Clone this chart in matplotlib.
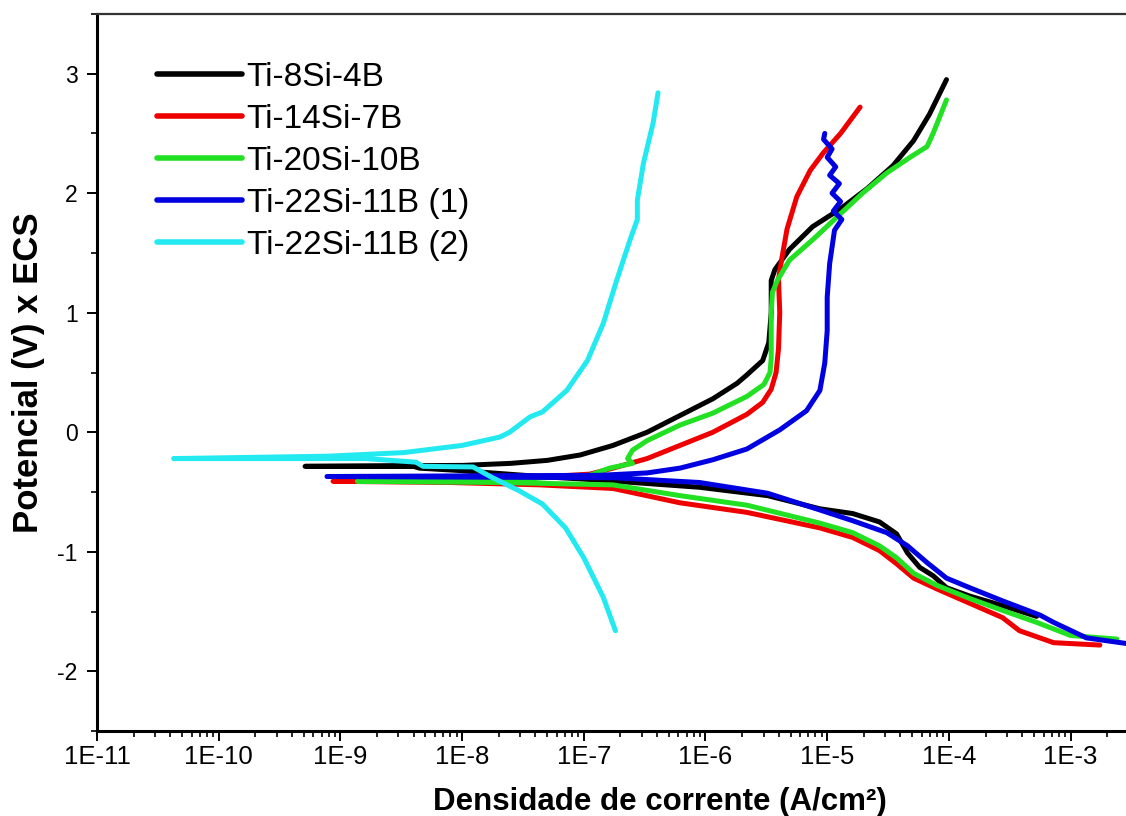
import matplotlib
matplotlib.use("Agg")
import matplotlib.pyplot as plt
import matplotlib.ticker as mticker
import numpy as np

plt.rcParams['font.family'] = ['Liberation Sans', 'DejaVu Sans']
plt.rcParams['axes.unicode_minus'] = False

# curvas de polarizacao: log10 da densidade de corrente (A/cm2) e potencial (V x ECS)
# cada curva vai do ramo catodico -> Ecorr -> ramo anodico
labels = ['Ti-8Si-4B', 'Ti-14Si-7B', 'Ti-20Si-10B', 'Ti-22Si-11B (1)', 'Ti-22Si-11B (2)']
colors = ['#000000', '#ee0000', '#22e022', '#0000e0', '#22eaf0']
decades = [-11, -10, -9, -8, -7, -6, -5, -4, -3]

logi_8si = [-3.28, -3.56, -3.83, -4.02, -4.13, -4.24, -4.34, -4.43, -4.57, -4.79, -5.06, -5.49,
            -6.05, -6.87, -7.36, -8.02, -8.35, -8.40, -9.29,
            -8.50, -7.99, -7.60, -7.30, -7.03, -6.76, -6.48, -6.21, -5.94, -5.74, -5.66, -5.53,
            -5.48, -5.46, -5.46, -5.43, -5.31, -5.12, -4.89, -4.67, -4.46, -4.29, -4.16, -4.02]
e_8si = [-1.54, -1.45, -1.37, -1.30, -1.20, -1.13, -1.01, -0.85, -0.75, -0.68, -0.64, -0.53,
         -0.46, -0.40, -0.37, -0.32, -0.30, -0.285, -0.285,
         -0.28, -0.277, -0.26, -0.235, -0.19, -0.11, 0.0, 0.14, 0.28, 0.41, 0.48, 0.60,
         0.75, 1.0, 1.27, 1.36, 1.53, 1.72, 1.87, 2.04, 2.23, 2.44, 2.66, 2.95]

logi_14si = [-2.76, -3.14, -3.42, -3.56, -3.83, -4.10, -4.29, -4.43, -4.57, -4.79, -5.06, -5.66,
             -6.21, -6.76, -7.36, -8.10, -9.06,
             -7.69, -6.95, -6.76, -6.48, -6.21, -5.94, -5.66, -5.53, -5.46, -5.42, -5.40, -5.39,
             -5.40, -5.37, -5.33, -5.25, -5.14, -5.03, -4.89, -4.73]
e_14si = [-1.78, -1.76, -1.66, -1.55, -1.43, -1.31, -1.22, -1.10, -0.99, -0.88, -0.80, -0.67,
          -0.59, -0.47, -0.44, -0.42, -0.41,
          -0.395, -0.35, -0.30, -0.22, -0.11, 0.0, 0.15, 0.25, 0.36, 0.50, 0.70, 1.0,
          1.28, 1.47, 1.70, 1.97, 2.19, 2.34, 2.50, 2.72]

logi_20si = [-2.62, -3.00, -3.28, -3.56, -3.83, -4.10, -4.29, -4.43, -4.57, -4.79, -5.06, -5.66,
             -6.21, -6.76, -7.69, -8.86,
             -7.69, -6.95, -6.79, -6.60, -6.64, -6.60, -6.48, -6.21, -5.94, -5.66, -5.52, -5.47,
             -5.46, -5.46, -5.45, -5.41, -5.31, -5.12, -4.92, -4.71, -4.51, -4.32, -4.18, -4.13, -4.02]
e_20si = [-1.73, -1.70, -1.59, -1.49, -1.39, -1.28, -1.18, -1.05, -0.95, -0.84, -0.76, -0.61,
          -0.53, -0.44, -0.42, -0.41,
          -0.40, -0.36, -0.30, -0.26, -0.22, -0.15, -0.07, 0.06, 0.16, 0.30, 0.40, 0.50,
          0.62, 1.0, 1.17, 1.27, 1.44, 1.61, 1.80, 2.00, 2.17, 2.30, 2.39, 2.50, 2.78]

logi_22si_1 = [-2.45, -2.87, -3.14, -3.25, -3.56, -3.83, -4.02, -4.18, -4.34, -4.51, -4.79, -5.06,
               -5.49, -6.05, -6.76, -9.11,
               -6.87, -6.48, -6.21, -5.94, -5.66, -5.39, -5.17, -5.06, -5.02, -5.00, -5.00, -4.98,
               -4.94, -4.88, -4.95, -4.89, -4.96, -4.90, -4.98, -4.93, -5.00, -4.96, -5.03, -5.02]
e_22si_1 = [-1.78, -1.72, -1.59, -1.53, -1.41, -1.30, -1.22, -1.09, -0.95, -0.84, -0.74, -0.65,
            -0.51, -0.42, -0.38, -0.37,
            -0.36, -0.34, -0.30, -0.23, -0.14, 0.02, 0.18, 0.35, 0.58, 0.85, 1.13, 1.41,
            1.69, 1.78, 1.85, 1.93, 2.00, 2.08, 2.15, 2.22, 2.30, 2.37, 2.45, 2.50]

logi_22si_2 = [-6.74, -6.84, -7.00, -7.15, -7.34, -7.53, -7.75, -7.91, -8.32, -8.38, -8.79, -10.37,
               -9.10, -8.48, -8.00, -7.69, -7.61, -7.44, -7.34, -7.14, -6.97, -6.84, -6.73,
               -6.62, -6.56, -6.56, -6.51, -6.43, -6.39]
e_22si_2 = [-1.66, -1.38, -1.05, -0.80, -0.60, -0.49, -0.38, -0.29, -0.285, -0.25, -0.22, -0.22,
            -0.20, -0.17, -0.11, -0.04, 0.0, 0.13, 0.17, 0.35, 0.60, 0.91, 1.27,
            1.61, 1.78, 1.94, 2.25, 2.59, 2.84]

series = [(logi_8si, e_8si), (logi_14si, e_14si), (logi_20si, e_20si),
          (logi_22si_1, e_22si_1), (logi_22si_2, e_22si_2)]

fig = plt.figure(figsize=(11.26, 8.16), dpi=100)
ax = fig.add_axes([0.0861, 0.104, 0.9139, 0.879])

for (logi, e), lab, c in zip(series, labels, colors):
    ax.plot(10 ** np.array(logi), e, color=c, lw=3.6, label=lab,
            solid_capstyle='round', solid_joinstyle='round')

ax.set_xscale('log')
ax.set_xlim(1e-11, 10 ** -2.545)
ax.set_ylim(-2.5, 3.5)

ax.xaxis.set_major_locator(mticker.FixedLocator([10.0 ** d for d in decades]))
ax.xaxis.set_major_formatter(mticker.FixedFormatter(['1E%d' % d for d in decades]))
ax.xaxis.set_minor_locator(mticker.LogLocator(base=10, subs=np.arange(2, 10), numticks=20))
ax.xaxis.set_minor_formatter(mticker.NullFormatter())
ax.yaxis.set_major_locator(mticker.MultipleLocator(1))
ax.yaxis.set_minor_locator(mticker.MultipleLocator(0.5))

ax.spines['right'].set_visible(False)
for s in ['left', 'bottom']:
    ax.spines[s].set_linewidth(2.2)
ax.spines['top'].set_linewidth(1.6)
ax.spines['top'].set_color('#333333')

ax.tick_params(which='major', direction='out', length=7, width=1.4, top=False, right=False)
ax.tick_params(which='minor', direction='out', length=4, width=1.2, top=False, right=False)
ax.tick_params(axis='x', which='major', labelsize=18.5, pad=3)
ax.tick_params(axis='y', which='major', labelsize=16.5, pad=7)

ax.set_xlabel('Densidade de corrente (A/cm²)', fontsize=22.5, fontweight='bold')
ax.set_ylabel('Potencial (V) x ECS', fontsize=25, fontweight='bold')
ax.xaxis.set_label_coords(0.547, -0.078)
ax.yaxis.set_label_coords(-0.05, 0.5)

leg = ax.legend(loc='upper left', bbox_to_anchor=(0.045, 0.952), frameon=False,
                fontsize=24, handlelength=2.55, handletextpad=0.15, labelspacing=0.33,
                borderaxespad=0)
for h in leg.get_lines():
    h.set_linewidth(4)

fig.savefig('out.png', dpi=100)
